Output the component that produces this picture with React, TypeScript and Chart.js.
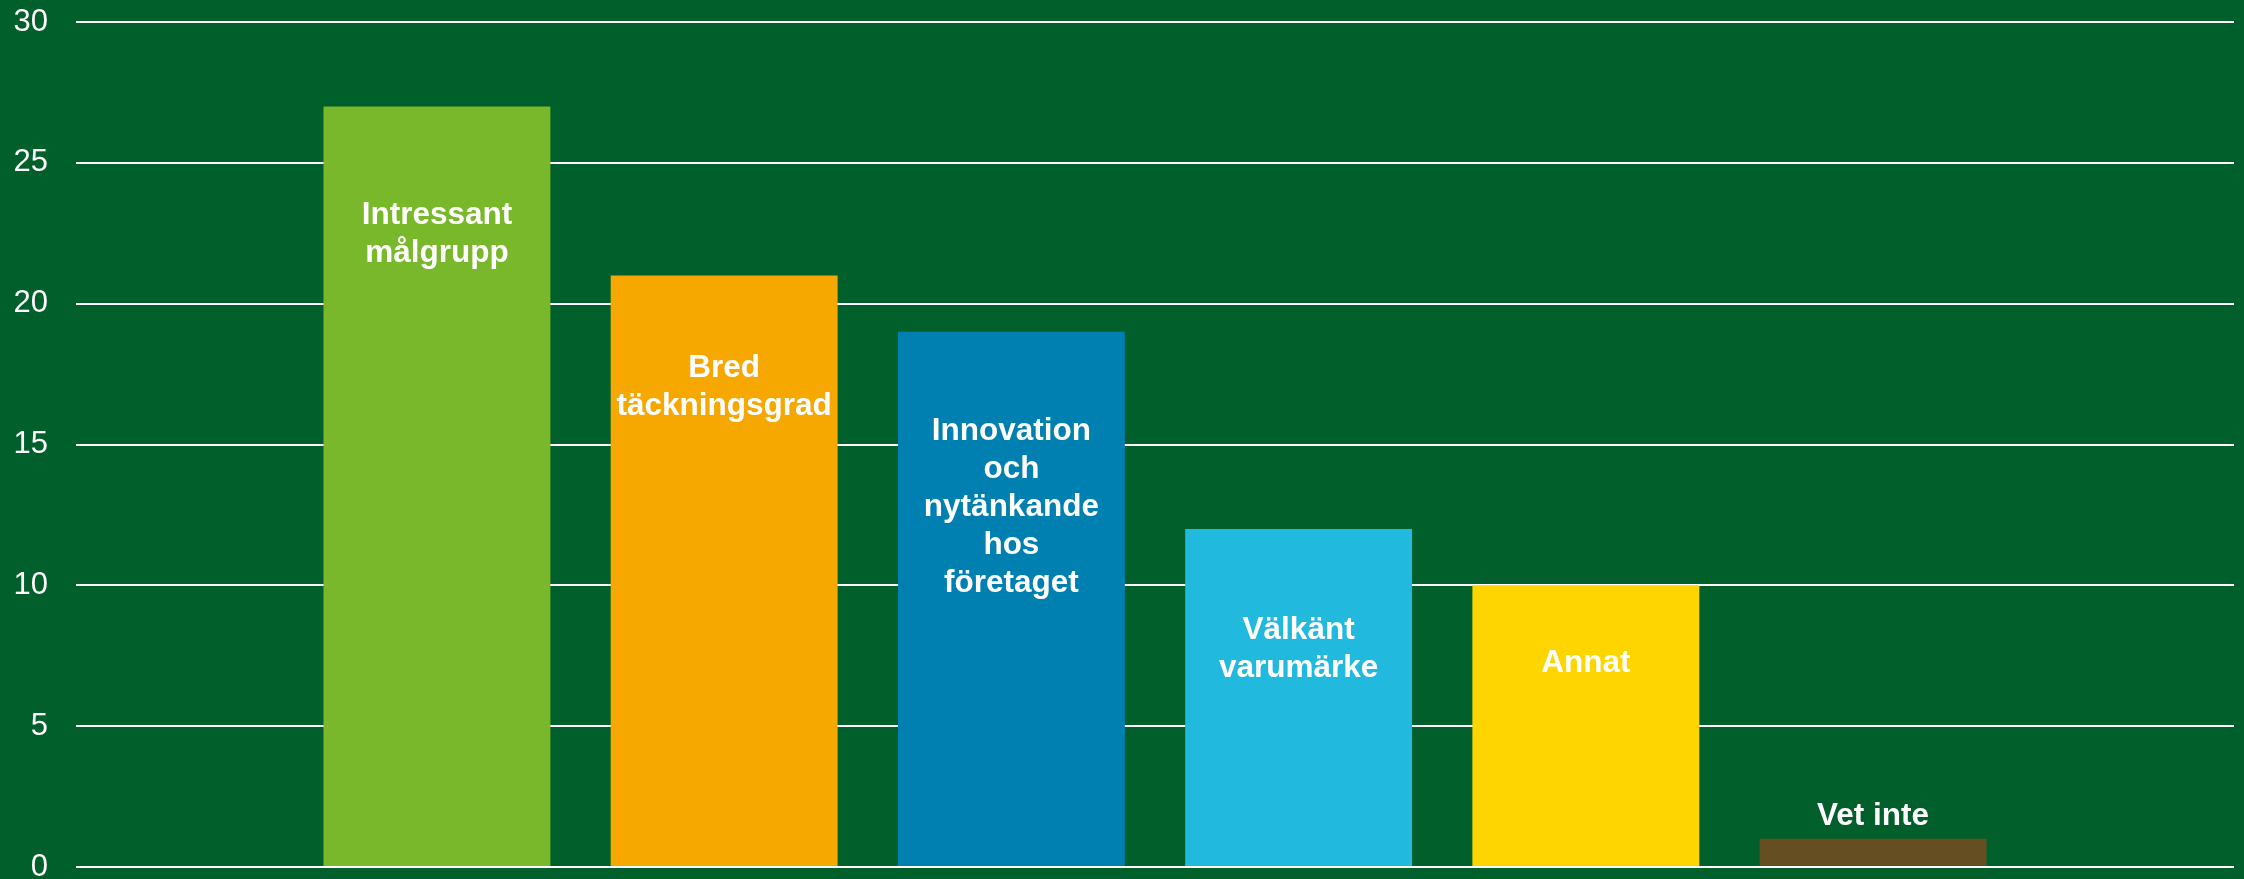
import React, { useEffect, useRef } from "react";
import { Chart, registerables } from "chart.js";

Chart.register(...registerables);

const categories = [
  "Intressant målgrupp",
  "Bred täckningsgrad",
  "Innovation och nytänkande hos företaget",
  "Välkänt varumärke",
  "Annat",
  "Vet inte",
];
const values = [27, 21, 19, 12, 10, 1];
const barColors = ["#78B82A", "#F7A800", "#0080B0", "#22B9DF", "#FFD500", "#654F22"];
const yTicks = [0, 5, 10, 15, 20, 25, 30];

const BG = "#005F2A";
const FONT = '"Liberation Sans", Arial, sans-serif';

const backgroundPlugin = {
  id: "bgFill",
  beforeDraw(chart: any) {
    const { ctx, width, height } = chart;
    ctx.save();
    ctx.fillStyle = BG;
    ctx.fillRect(0, 0, width, height);
    ctx.restore();
  },
};

function wrap(ctx: CanvasRenderingContext2D, text: string, maxWidth: number): string[] {
  const words = text.split(" ");
  const lines: string[] = [];
  let cur = "";
  for (const w of words) {
    const test = cur ? cur + " " + w : w;
    if (cur && ctx.measureText(test).width > maxWidth) {
      lines.push(cur);
      cur = w;
    } else {
      cur = test;
    }
  }
  if (cur) lines.push(cur);
  return lines;
}

const barLabelPlugin = {
  id: "barLabels",
  afterDatasetsDraw(chart: any, _args: any, opts: any) {
    const { ctx } = chart;
    const fontSize = 31.5;
    const lineH = 38;
    const offsets: number[] = (opts && opts.firstLineOffsets) || [];
    ctx.save();
    ctx.font = `bold ${fontSize}px ${FONT}`;
    ctx.fillStyle = "#FFFFFF";
    ctx.textAlign = "center";
    ctx.textBaseline = "middle";
    chart.data.datasets.forEach((ds: any, i: number) => {
      const meta = chart.getDatasetMeta(i);
      const bar = meta.data[0];
      if (!bar) return;
      const lines = wrap(ctx, ds.label, 185);
      const off = offsets[i] ?? 95;
      const h = bar.base - bar.y;
      const needed = off + (lines.length - 1) * lineH + 20;
      let y0: number;
      if (h >= needed) {
        y0 = bar.y + off;
      } else {
        y0 = bar.y - 23 - (lines.length - 1) * lineH;
      }
      lines.forEach((ln, k) => {
        ctx.fillText(ln, bar.x, y0 + k * lineH);
      });
    });
    ctx.restore();
  },
};

export default function App() {
  const ref = useRef<HTMLCanvasElement | null>(null);

  useEffect(() => {
    document.body.style.margin = "0";
    document.body.style.background = BG;
    const canvas = ref.current;
    if (!canvas) return;
    const chart = new Chart(canvas, {
      type: "bar",
      data: {
        labels: [""],
        datasets: categories.map((c, i) => ({
          label: c,
          data: [values[i]],
          backgroundColor: barColors[i],
          borderWidth: 0,
          barPercentage: 0.79,
          categoryPercentage: 0.7986,
        })),
      },
      options: {
        responsive: false,
        animation: false,
        devicePixelRatio: 1,
        layout: { padding: { top: 22, right: 10, bottom: 12, left: 0 } },
        plugins: {
          legend: { display: false },
          tooltip: { enabled: false },
          title: { display: false },
          barLabels: { firstLineOffsets: [109, 93, 99, 101, 78, 95] },
        },
        scales: {
          x: { display: false, offset: true },
          y: {
            min: 0,
            max: 30,
            afterBuildTicks(scale: any) {
              scale.ticks = yTicks.map((v) => ({ value: v }));
            },
            afterFit(scale: any) {
              scale.width = 76;
              scale.paddingTop = 0;
              scale.paddingBottom = 0;
            },
            border: { display: false },
            grid: { color: "#FFFFFF", lineWidth: 2, drawTicks: false },
            ticks: {
              color: "#FFFFFF",
              padding: 28,
              font: { family: FONT, size: 31, lineHeight: 0.8 },
            },
          },
        },
      } as any,
      plugins: [backgroundPlugin, barLabelPlugin],
    });
    return () => chart.destroy();
  }, []);

  return (
    <div style={{ width: 2244, height: 879, overflow: "hidden" }}>
      <canvas ref={ref} width={2244} height={879} style={{ display: "block" }} />
    </div>
  );
}
